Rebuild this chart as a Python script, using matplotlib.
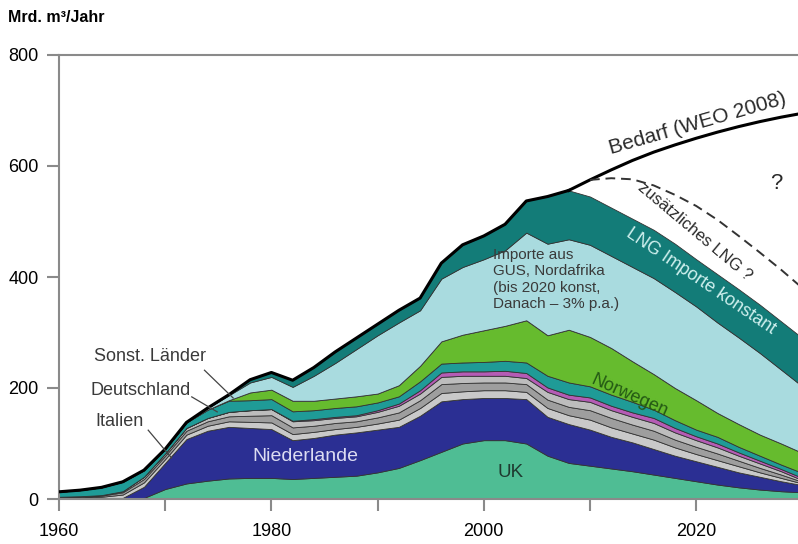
import numpy as np
import matplotlib
matplotlib.use('Agg')
import matplotlib.pyplot as plt

plt.rcParams['font.family'] = ['Liberation Sans', 'DejaVu Sans']

jahre = list(range(1960, 2031, 2))

uk = [0, 0, 0, 0, 2, 18, 28, 33, 37, 38, 38, 36, 38, 40, 42, 48, 56, 70,
      85, 100, 106, 106, 100, 78, 65, 60, 55, 50, 44, 38, 32, 26, 21, 17, 14, 12]
niederlande = [0, 0, 0, 2, 20, 47, 80, 90, 93, 90, 88, 70, 72, 76, 78, 77, 74, 80,
               91, 80, 76, 76, 80, 70, 70, 65, 57, 52, 46, 40, 36, 32, 27, 23, 18, 13]
italien = [2, 3, 4, 6, 8, 7, 8, 9, 10, 11, 12, 11, 11, 10, 10, 11, 13, 14,
           15, 14, 14, 14, 13, 16, 16, 18, 17, 16, 17, 15, 13, 12, 11, 8, 6, 3]
deutschland = [1, 1, 2, 4, 6, 6, 7, 8, 9, 11, 13, 12, 11, 11, 10, 11, 13, 14,
               16, 15, 14, 14, 14, 15, 15, 17, 17, 16, 16, 14, 13, 12, 10, 8, 6, 3]
andere_grau = [1, 1, 1, 2, 4, 4, 5, 6, 8, 10, 11, 11, 10, 9, 9, 10, 12, 12,
               13, 13, 12, 12, 11, 14, 14, 15, 14, 14, 14, 13, 12, 11, 9, 8, 6, 3]
andere_pink = [0, 0, 0, 0, 0, 0, 0, 0, 0, 0, 0, 1, 2, 2, 2, 3, 4, 6,
               8, 8, 8, 9, 9, 8, 8, 8, 8, 8, 9, 8, 7, 7, 6, 5, 4, 4]
sonst_laender = [9, 11, 14, 17, 12, 8, 10, 15, 20, 18, 18, 17, 16, 16, 16, 14, 13, 16,
                 16, 16, 17, 18, 19, 21, 22, 20, 20, 19, 15, 14, 12, 12, 10, 9, 8, 9]
norwegen = [0, 0, 0, 0, 0, 0, 0, 0, 1, 14, 17, 19, 17, 17, 18, 16, 20, 28,
            40, 50, 57, 63, 76, 73, 95, 89, 84, 73, 64, 58, 53, 43, 41, 38, 38, 36]
importe_gus = [0, 0, 0, 0, 0, 0, 0, 3, 9, 18, 23, 25, 45, 64, 85, 105, 113, 100,
               113, 122, 128, 136, 158, 165, 163, 166, 166, 170, 173, 173, 169, 163, 156, 147, 133, 120]
lng = [0, 0, 0, 0, 0, 0, 0, 0, 1, 5, 8, 12, 15, 20, 20, 20, 22, 22,
       28, 40, 42, 47, 57, 85, 88, 87, 87, 87, 87, 87, 85, 87, 87, 87, 87, 87]

bedarf_jahre = list(range(2008, 2031, 2))
bedarf = [556, 575, 593, 610, 625, 638, 650, 661, 671, 680, 688, 695]

zus_lng_jahre = list(range(2010, 2031, 2))
zus_lng = [575, 578, 576, 565, 548, 528, 503, 474, 444, 413, 380]

farben = ['#4FBD94', '#2B2F93', '#C9C9C9', '#9E9E9E', '#BDBDBD', '#B55CB5',
          '#1F9B97', '#66BB2E', '#A9DBDF', '#137C78']

# --- Plot ---
fig = plt.figure(figsize=(7.98, 5.44), dpi=100)
ax = fig.add_axes([59 / 798, 45 / 544, 739 / 798, 444 / 544])

ax.stackplot(jahre, uk, niederlande, italien, deutschland, andere_grau, andere_pink,
             sonst_laender, norwegen, importe_gus, lng,
             colors=farben, edgecolor='#333333', linewidth=0.6)

# Umriss oben (Ist-Verbrauch) und Bedarf
gesamt = np.sum([uk, niederlande, italien, deutschland, andere_grau, andere_pink,
                 sonst_laender, norwegen, importe_gus, lng], axis=0)
hist = [i for i, j in enumerate(jahre) if j <= 2008]
ax.plot([jahre[i] for i in hist], gesamt[hist], color='black', lw=2.2, zorder=5)
ax.plot(bedarf_jahre, bedarf, color='black', lw=2.2, zorder=5)
ax.plot(zus_lng_jahre, zus_lng, color='#333333', lw=1.4, ls=(0, (5, 3)), zorder=5)

ax.set_xlim(1960, 1960 + 739 / 10.62)
ax.set_ylim(0, 800)

for s in ['right']:
    ax.spines[s].set_visible(False)
for s in ['left', 'top', 'bottom']:
    ax.spines[s].set_color('#8A8A8A')
    ax.spines[s].set_linewidth(1.5)

ax.set_yticks([0, 200, 400, 600, 800])
ax.set_xticks(range(1960, 2030, 10))
ax.set_xticklabels(['1960', '', '1980', '', '2000', '', '2020'])
ax.tick_params(axis='both', colors='#8A8A8A', width=1.5, length=8.5,
               labelcolor='black', labelsize=13)
ax.tick_params(axis='y', pad=6)
ax.tick_params(axis='x', pad=9)

fig.text(8 / 798, 1 - 18 / 544, 'Mrd. m³/Jahr', fontsize=11.5, fontweight='bold',
         va='center', ha='left')

# --- Beschriftungen ---
txt = dict(color='#3A3A3A', fontsize=13, ha='center', va='center')
ax.text(1968.6, 256, 'Sonst. Länder', **txt)
ax.text(1967.7, 196, 'Deutschland', **txt)
ax.text(1965.7, 140, 'Italien', **txt)
ax.plot([1973.7, 1976.4], [232, 182], color='#444444', lw=0.9, zorder=6)
ax.plot([1972.5, 1974.9], [184, 157], color='#444444', lw=0.9, zorder=6)
ax.plot([1968.4, 1970.6], [124, 74], color='#444444', lw=0.9, zorder=6)

ax.text(1983.2, 77, 'Niederlande', color='#DCDCF2', fontsize=14, ha='center', va='center')
ax.text(2002.5, 47, 'UK', color='#1F3A30', fontsize=13.5, ha='center', va='center')
ax.text(2013.7, 186, 'Norwegen', color='#245A14', fontsize=13, ha='center', va='center',
        rotation=-24)
ax.text(2000.9, 452, 'Importe aus\nGUS, Nordafrika\n(bis 2020 konst,\nDanach – 3% p.a.)',
        color='#3A3A3A', fontsize=11, ha='left', va='top', linespacing=1.2)
ax.text(2020.4, 392, 'LNG Importe konstant', color='#CFF0EE', fontsize=13, ha='center',
        va='center', rotation=-34)
ax.text(2019.9, 481, 'zusätzliches LNG ?', color='#2A2A2A', fontsize=12, ha='center',
        va='center', rotation=-40)
ax.text(2020.1, 677, 'Bedarf (WEO 2008)', color='#2A2A2A', fontsize=15, ha='center',
        va='center', rotation=16)
ax.text(2027.5, 568, '?', color='#2A2A2A', fontsize=16, ha='center', va='center')

fig.savefig('out.png', dpi=100)
